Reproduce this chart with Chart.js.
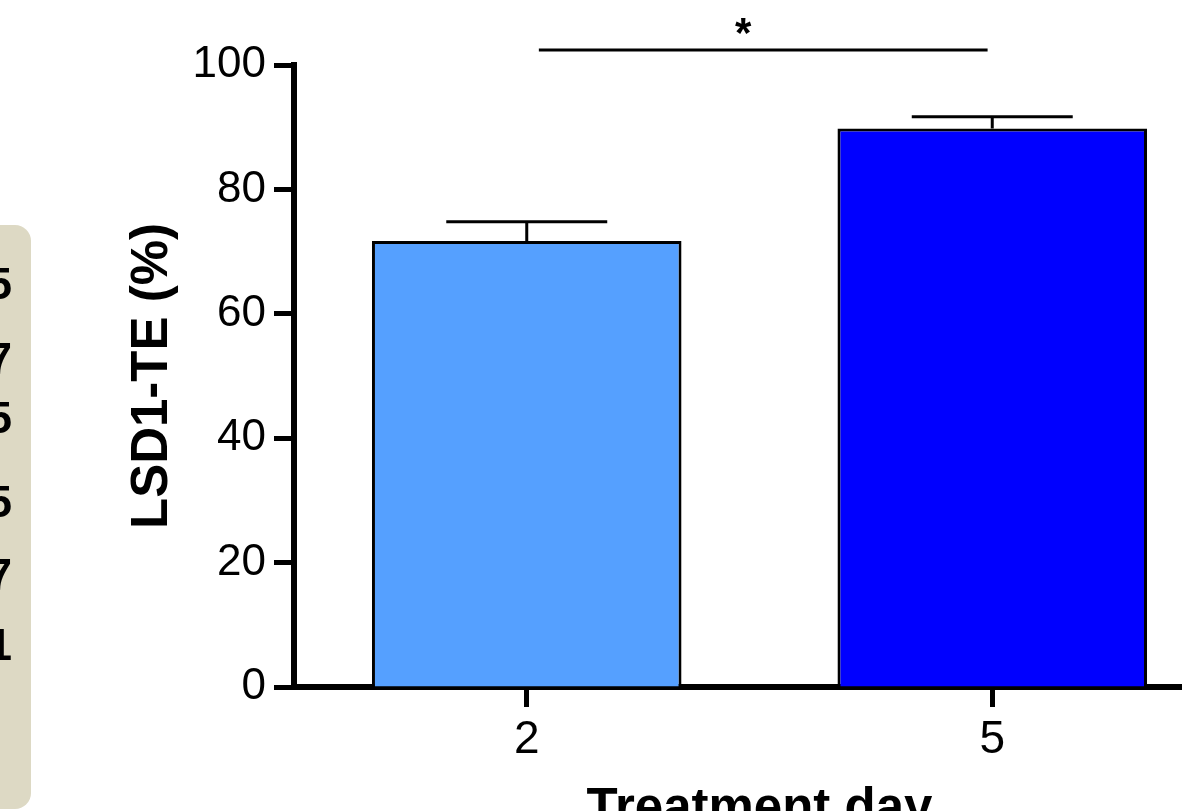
<!DOCTYPE html>
<html>
<head>
<meta charset="utf-8">
<script src="https://cdn.jsdelivr.net/npm/chart.js@4/dist/chart.umd.min.js"></script>
<style>
  html, body { margin: 0; padding: 0; background: #fff; overflow: hidden; }
  #wrap { position: absolute; left: 0; top: 0; width: 1240px; height: 880px; }
</style>
</head>
<body>
<div id="wrap"><canvas id="myChart" width="1240" height="880"></canvas></div>
<script>
// data
const days = ['2', '5']
const teMean = [71.7, 89.8]
const teSem = [3.1, 1.9]
const barColors = ['#55A0FF', '#0000FF']
const yTicks = [0, 20, 40, 60, 80, 100]

// significance bracket, in category / value units
const sigFrom = 0.026
const sigTo = 0.99
const sigLevel = 102.4
const sigMark = '*'
const sigMarkAt = 0.465

// cropped side panel text (only the edge of it shows)
const sideGlyphs = ['5', '7', '5', '5', '7', '1']

const FONT = '"Liberation Sans", Arial, Helvetica, sans-serif'

// beige box at left edge, mostly cut off
const sidePanel = {
  id: 'sidePanel',
  beforeDraw: chart => {
    const ctx = chart.ctx
    ctx.save()
    ctx.fillStyle = '#DDD9C4'
    ctx.beginPath()
    ctx.roundRect(-40, 225, 71, 584, 16)
    ctx.fill()
    ctx.fillStyle = '#000'
    ctx.font = 'bold 44px ' + FONT
    ctx.textAlign = 'right'
    ctx.textBaseline = 'middle'
    const ys = [287, 362, 421, 505, 578, 648]
    sideGlyphs.forEach((g, i) => ctx.fillText(g, 12, ys[i]))
    ctx.restore()
  }
}

// error bars + significance bracket
const extras = {
  id: 'extras',
  afterDatasetsDraw: chart => {
    const ctx = chart.ctx,
        x = chart.scales.x,
        y = chart.scales.y,
        meta = chart.getDatasetMeta(0)
    ctx.save()
    ctx.strokeStyle = '#000'
    ctx.lineWidth = 3
    meta.data.forEach((bar, i) => {
      let top = y.getPixelForValue(teMean[i] + teSem[i]),
          half = bar.width * 0.26
      ctx.beginPath()
      ctx.moveTo(bar.x, bar.y)
      ctx.lineTo(bar.x, top)
      ctx.moveTo(bar.x - half, top)
      ctx.lineTo(bar.x + half, top)
      ctx.stroke()
    })
    let ly = y.getPixelForValue(sigLevel)
    ctx.beginPath()
    ctx.moveTo(x.getPixelForValue(sigFrom), ly)
    ctx.lineTo(x.getPixelForValue(sigTo), ly)
    ctx.stroke()
    ctx.fillStyle = '#000'
    ctx.font = 'bold 42px ' + FONT
    ctx.textAlign = 'center'
    ctx.textBaseline = 'alphabetic'
    ctx.fillText(sigMark, x.getPixelForValue(sigMarkAt), ly - 3)
    ctx.restore()
  }
}

const ctx = document.getElementById('myChart').getContext('2d')
const chart = new Chart(ctx, {
  type: 'bar',
  data: {
    labels: days,
    datasets: [{
      data: teMean,
      backgroundColor: barColors,
      borderColor: '#000',
      borderWidth: 3,
      borderSkipped: 'start',
      barPercentage: 0.665,
      categoryPercentage: 1
    }]
  },
  options: {
    responsive: false,
    animation: false,
    devicePixelRatio: 1,
    layout: { padding: { top: 65, right: 15, bottom: 0, left: 0 } },
    plugins: {
      legend: { display: false },
      tooltip: { enabled: false }
    },
    scales: {
      x: {
        offset: true,
        grid: {
          display: true, offset: false, drawOnChartArea: false,
          drawTicks: true, tickLength: 20, tickWidth: 5, tickColor: '#000'
        },
        border: { display: true, color: '#000', width: 6 },
        ticks: { color: '#000', padding: 6, font: { family: FONT, size: 46 } },
        title: {
          display: true, text: 'Treatment day', color: '#000',
          font: { family: FONT, size: 51, weight: 'bold' },
          padding: { top: 0, bottom: 39 }
        },
        afterFit: s => { s.height = 880 - 687 }
      },
      y: {
        min: 0,
        max: 100,
        afterBuildTicks: s => { s.ticks = yTicks.map(v => ({ value: v })) },
        grid: {
          display: true, drawOnChartArea: false,
          drawTicks: true, tickLength: 20, tickWidth: 5, tickColor: '#000'
        },
        border: { display: true, color: '#000', width: 6 },
        ticks: { color: '#000', padding: 8, font: { family: FONT, size: 44 } },
        title: {
          display: true, text: 'LSD1-TE (%)', color: '#000',
          font: { family: FONT, size: 51, weight: 'bold' },
          padding: { top: 122, bottom: 0 }
        },
        afterFit: s => { s.width = 294 }
      }
    }
  },
  plugins: [sidePanel, extras]
})
</script>
</body>
</html>
